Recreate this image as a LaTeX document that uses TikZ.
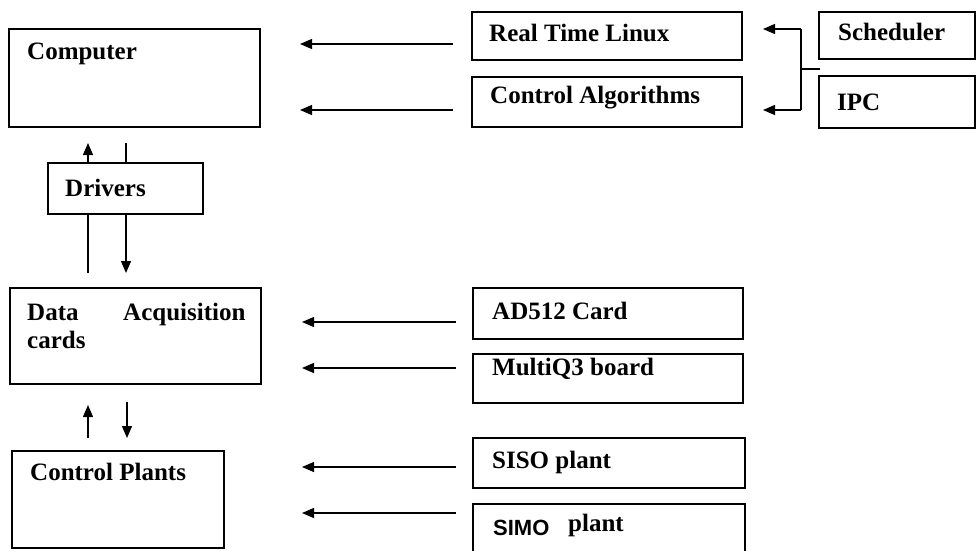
\documentclass[tikz,border=0pt]{standalone}
\usepackage{fontspec}
\setmainfont{Liberation Serif}
\setsansfont{Liberation Sans}
\usetikzlibrary{arrows.meta}
\tikzset{
  box/.style={draw, line width=1.6pt, rectangle, inner sep=0pt, outer sep=0pt, anchor=north west},
  lbl/.style={anchor=base west, inner sep=0pt, font=\fontsize{25}{28}\selectfont\bfseries},
  link/.style={line width=1.3pt},
  arr/.style={link, -{Triangle[length=12pt,width=10pt]}},
}
\newcommand{\boxat}[5]{\node[box, minimum width=#4pt, minimum height=#5pt] (#1) at (#2,#3) {};}
\begin{document}
\begin{tikzpicture}[x=1pt,y=-1pt]
  \useasboundingbox (0,0) rectangle (976,550);

  % left column
  \boxat{comp}{9}{29}{251}{98}
  \boxat{drv}{48}{163}{155}{51}
  \boxat{daq}{10}{288}{251}{96}
  \boxat{plants}{12}{451}{212}{97}

  % middle column
  \boxat{rtl}{472}{12}{270}{48}
  \boxat{alg}{472}{77}{270}{50}
  \boxat{ad}{473}{288}{270}{51}
  \boxat{mq}{473}{354}{270}{49}
  \boxat{siso}{473}{438}{272}{50}
  \boxat{simo}{473}{504}{272}{60}

  % right column
  \boxat{sched}{819}{12}{156}{47}
  \boxat{ipc}{819}{76}{156}{52}

  % labels
  \node[lbl] (tcomp) at (27,59) {Computer};
  \node[lbl] (tdrv) at (65,196) {Drivers};
  \node[lbl] (tdata) at (27,320) {Data};
  \node[lbl] (tacq) at (123,320) {Acquisition};
  \node[lbl] (tcards) at (27,348) {cards};
  \node[lbl] (tplants) at (30,480) {Control Plants};
  \node[lbl] (trtl) at (489,41) {Real Time Linux};
  \node[lbl] (talg) at (490,103) {Control Algorithms};
  \node[lbl] (tsched) at (838,40) {Scheduler};
  \node[lbl] (tipc) at (837,110) {IPC};
  \node[lbl] (tad) at (492,319) {AD512 Card};
  \node[lbl] (tmq) at (492,375) {MultiQ3 board};
  \node[lbl] (tsiso) at (492,468) {SISO plant};
  \node[lbl, font=\fontsize{22}{24}\selectfont\sffamily\bfseries] (tsimo) at (493,535) {SIMO};
  \node[lbl] (tplant) at (568,531) {plant};

  % connector end points
  \coordinate (rtlA) at (453,44);   \coordinate (rtlB) at (300,44);
  \coordinate (algA) at (453,110);  \coordinate (algB) at (300,110);
  \coordinate (adA) at (456,322);   \coordinate (adB) at (302,322);
  \coordinate (mqA) at (456,368);   \coordinate (mqB) at (302,368);
  \coordinate (sisoA) at (456,467); \coordinate (sisoB) at (302,467);
  \coordinate (simoA) at (456,513); \coordinate (simoB) at (302,513);

  \coordinate (stub) at (820,69);
  \coordinate (brk) at (801,69);
  \coordinate (brkT) at (801,29);   \coordinate (brkTip) at (763,29);
  \coordinate (brkB) at (801,110);  \coordinate (brkBip) at (763,110);

  \coordinate (cdUp) at (88,143);
  \coordinate (cdDn) at (126,143);
  \coordinate (ddL) at (88,273);
  \coordinate (ddR) at (126,273);
  \coordinate (dpUpS) at (88,438);  \coordinate (dpUpE) at (88,405);
  \coordinate (dpDnS) at (127,402); \coordinate (dpDnE) at (127,438);

  % horizontal arrows towards the left column
  \draw[arr] (rtlA) -- (rtlB);
  \draw[arr] (algA) -- (algB);
  \draw[arr] (adA) -- (adB);
  \draw[arr] (mqA) -- (mqB);
  \draw[arr] (sisoA) -- (sisoB);
  \draw[arr] (simoA) -- (simoB);

  % scheduler / IPC bracket
  \draw[link] (stub) -- (brk);
  \draw[link] (brkT) -- (brkB);
  \draw[arr] (brkT) -- (brkTip);
  \draw[arr] (brkB) -- (brkBip);

  % computer <-> drivers
  \draw[arr] (drv.north west -| cdUp) -- (cdUp);
  \draw[link] (cdDn) -- (drv.north west -| cdDn);

  % drivers <-> data acquisition
  \draw[link] (drv.south west -| ddL) -- (ddL);
  \draw[arr] (drv.south west -| ddR) -- (ddR);

  % data acquisition <-> control plants
  \draw[arr] (dpUpS) -- (dpUpE);
  \draw[arr] (dpDnS) -- (dpDnE);
\end{tikzpicture}
\end{document}
